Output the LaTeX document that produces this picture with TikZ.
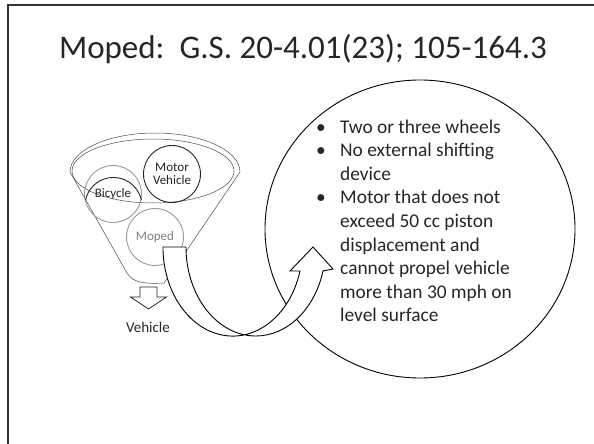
\documentclass[tikz,border=0pt]{standalone}
\usepackage{fontspec}
\setmainfont{Carlito}
\usetikzlibrary{positioning,shapes.geometric}

\begin{document}
\begin{tikzpicture}[x=1pt,y=-1pt,
  ring/.style={circle,draw=black!85,line width=0.9pt,minimum size=57pt,inner sep=0pt,
    align=center,font=\fontsize{13}{12.5}\selectfont,text=black!85},
  faint/.style={draw=black!40,line width=0.9pt},
  funnel/.style={draw=black!70,line width=0.5pt},
  outline/.style={draw=black,line width=0.9pt,fill=white}]
\useasboundingbox (0,0) rectangle (594,444);
% slide frame
\draw[black!80,line width=2.2pt] (600,5) -- (8,5) -- (8,450);
% funnel body and opening
\draw[funnel,fill=white] (70,172) arc[start angle=180,end angle=360,x radius=85,y radius=39]
  -- (187,250) -- (164,283) .. controls (145,284) and (133,283) .. (127,273) -- cycle;
\draw[funnel] (153,171) ellipse[x radius=81,y radius=32];
% circles in the funnel
\node[ring] (moto) at (172,174) {Motor\\Vehicle};
\node[ring,draw=none] (bike) at (113,194) {Bicycle};
\draw[faint] (bike) circle[radius=28.5];
\draw[black!85,line width=0.9pt] (bike.-12) arc[start angle=-12,end angle=-168,radius=28.5];
\node[ring,faint,text=black!50] (moped) at (155,237) {Moped};
% big bubble
\node[draw,ellipse,line width=0.9pt,minimum width=310pt,minimum height=298pt,inner sep=0pt] (bubble) at (420,229) {};
% curved arrow from funnel to bubble
\draw[outline] (163,247) -- (186,247)
  arc[start angle=180,end angle=15.6,x radius=69.8,y radius=89]
  -- (333,269) -- (313,247) -- (290,271) -- (300,271)
  arc[start angle=15.6,end angle=180,x radius=69.8,y radius=89] -- cycle;
% down arrow under funnel
\draw[black!85,line width=0.8pt,fill=white] (140,287) -- (157,287) -- (157,297) -- (166.5,297)
  -- (148.5,309) -- (130.5,297) -- (140,297) -- cycle;
\node[font=\fontsize{15}{18}\selectfont,text=black!85] (veh) at (148,327) {Vehicle};
% texts
\node[anchor=base,font=\fontsize{33}{40}\selectfont,text=black!85] (title) at (303,59)
  {Moped:\ \ G.S. 20-4.01(23); 105-164.3};
\node[anchor=base west,inner sep=0pt,font=\fontsize{19.4}{23.6}\selectfont,text=black!85] (facts) at (316,133)
  {\begin{tabular}[t]{@{}p{24pt}@{}l@{}}
  \textbullet & Two or three wheels\\
  \textbullet & No external shifting\\
   & device\\
  \textbullet & Motor that does not\\
   & exceed 50 cc piston\\
   & displacement and\\
   & cannot propel vehicle\\
   & more than 30 mph on\\
   & level surface
  \end{tabular}};
\end{tikzpicture}
\end{document}
